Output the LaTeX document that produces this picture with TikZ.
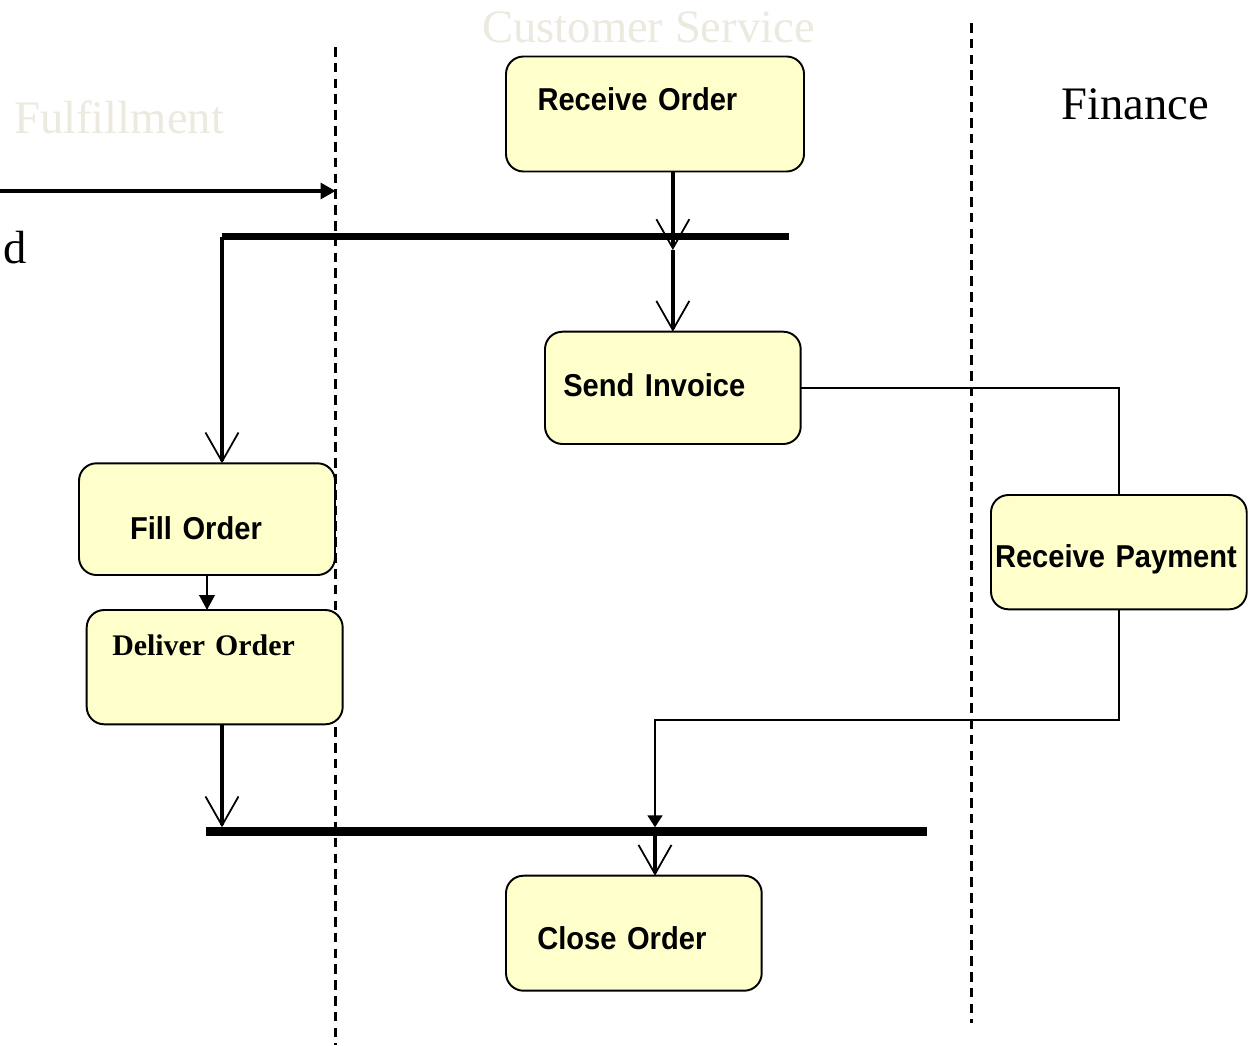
\documentclass[tikz,border=0pt]{standalone}
\usepackage{fontspec}
\usepackage{tikz}
\usetikzlibrary{arrows.meta, calc}
\setmainfont{Liberation Serif}
\newfontfamily\actfont[FakeStretch=0.92]{Liberation Sans}
\definecolor{actfill}{HTML}{FFFFCC}
\definecolor{lanegrey}{RGB}{236,233,222}
\tikzstyle{activity} = [rectangle, rounded corners=0.35cm, draw=black, line width=1.1pt, fill=actfill, font=\actfont\bfseries\fontsize{18}{21}\selectfont, align=left, anchor=north west, inner ysep=0pt, outer sep=0pt]
\tikzstyle{bar} = [rectangle, fill=black, inner sep=0pt, outer sep=0pt]
\tikzstyle{lane} = [line width=1.5pt, dash pattern=on 5.5pt off 3.5pt]
\tikzstyle{lanetitle} = [font=\fontsize{26.5}{30}\selectfont, anchor=base west, inner sep=0pt]
\tikzstyle{flow} = [line width=2pt, -{Straight Barb[length=0.58cm,width=0.66cm,line width=1pt]}]
\tikzstyle{arrow} = [line width=1.8pt, -{Triangle[length=0.3cm,width=0.32cm]}]
\tikzstyle{smallarrow} = [line width=1.3pt, -{Triangle[length=0.3cm,width=0.31cm]}]
\tikzstyle{payarrow} = [line width=1.1pt, -{Triangle[length=0.24cm,width=0.3cm]}]
\tikzstyle{plain} = [line width=1.1pt]
\tikzset{boxsize/.style n args={4}{inner xsep=#1cm, text width=#2cm, text height=#3cm, text depth=#4cm}}

\begin{document}
\begin{tikzpicture}
\useasboundingbox (0,0) rectangle (25,-20.9);
% swimlanes
\coordinate (laneA) at (6.71,-0.94);
\coordinate (laneB) at (19.43,-0.46);
\draw [lane] (laneA) -- (6.71,-20.9);
\draw [lane] (laneB) -- (19.43,-20.46);
\node (fulfil) [lanetitle, text=lanegrey] at (0.28,-2.66) {Fulfillment};
\node (custserv) [lanetitle, text=lanegrey] at (9.64,-0.86) {Customer Service};
\node (finance) [lanetitle] at (21.23,-2.38) {Finance};
\node (cutoff) [lanetitle, anchor=base east] at (0.54,-5.26) {d};
% activities
\node (recv) [activity, boxsize={0.63}{4.70}{1.09}{1.21}] at (10.12,-1.13) {Receive Order};
\node (sinv) [activity, boxsize={0.366}{4.382}{1.286}{0.96}] at (10.9,-6.634) {Send Invoice};
\node (fill) [activity, boxsize={1.02}{3.08}{1.52}{0.714}] at (1.58,-9.266) {Fill Order};
\node (dlv) [activity, boxsize={0.512}{4.096}{0.9}{1.386}, font=\bfseries\fontsize{17}{20}\selectfont] at (1.734,-12.2) {Deliver Order};
\node (rpay) [activity, boxsize={0.08}{4.954}{1.44}{0.846}] at (19.82,-9.9) {Receive Payment};
\node (close) [activity, boxsize={0.626}{3.862}{1.466}{0.834}] at (10.12,-17.514) {Close Order};
% fork and join bars
\node (fork) [bar, minimum width=11.34cm, minimum height=0.14cm] at (10.11,-4.73) {};
\node (join) [bar, minimum width=14.42cm, minimum height=0.17cm] at (11.33,-16.63) {};
% connectors
\coordinate (inflow) at (0,-3.82);
\coordinate (merge) at (13.1,-14.4);
\draw [arrow] (inflow) -- (inflow -| laneA);
\draw [flow] (recv.south -| sinv.north) -- ($(fork.south -| sinv.north)+(0,-0.2)$);
\draw [flow] ($(fork.south -| sinv.north)+(0,-0.2)$) -- (sinv.north);
\draw [flow] (fork.west) -- (fork.west |- fill.north);
\draw [smallarrow] (fill.south) -- (fill.south |- dlv.north);
\draw [flow] (dlv.south -| fork.west) -- (join.north -| fork.west);
\draw [plain] (sinv.east) -| (rpay.north);
\draw [payarrow] (rpay.south) |- (merge) -- (merge |- join.north);
\draw [flow] (merge |- join.south) -- (merge |- close.north);
\end{tikzpicture}
\end{document}
